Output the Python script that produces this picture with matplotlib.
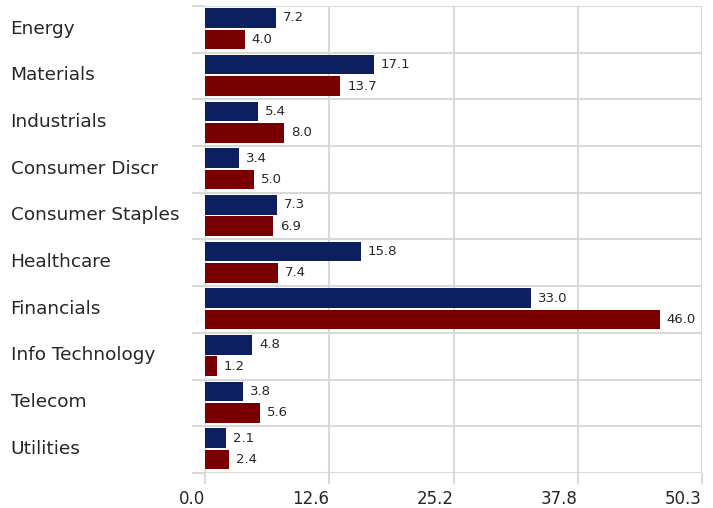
import numpy as np
import matplotlib.pyplot as plt

categories = ['Energy', 'Materials', 'Industrials', 'Consumer Discr',
              'Consumer Staples', 'Healthcare', 'Financials',
              'Info Technology', 'Telecom', 'Utilities']
series_a = [7.2, 17.1, 5.4, 3.4, 7.3, 15.8, 33.0, 4.8, 3.8, 2.1]
series_b = [4.0, 13.7, 8.0, 5.0, 6.9, 7.4, 46.0, 1.2, 5.6, 2.4]
x_max = 50.3
x_ticks = [0.0, 12.575, 25.15, 37.725, 50.3]
x_tick_labels = ['0.0', '12.6', '25.2', '37.8', '50.3']

navy = '#0c1f5e'
red = '#780000'
grid_col = '#d9d9d9'
text_col = '#262626'

plt.rcParams['font.family'] = ['DejaVu Sans']

fig = plt.figure(figsize=(7.13, 5.08), dpi=100)
ax = fig.add_axes([205 / 713, 1 - 473 / 508, 497 / 713, 467 / 508])

y = np.arange(len(categories))
h = 0.42
off_a, off_b = -0.245, 0.215
ax.barh(y + off_a, series_a, height=h, color=navy, zorder=3)
ax.barh(y + off_b, series_b, height=h, color=red, zorder=3)

for yi, va, vb in zip(y, series_a, series_b):
    ax.annotate(f'{va:.1f}', (va, yi + off_a), xytext=(5, 0), textcoords='offset points',
                va='center', ha='left', fontsize=9.5, color=text_col)
    ax.annotate(f'{vb:.1f}', (vb, yi + off_b), xytext=(5, 0), textcoords='offset points',
                va='center', ha='left', fontsize=9.5, color=text_col)

ax.set_xlim(0, x_max)
ax.set_ylim(len(categories) - 0.5, -0.5)

# category boundaries carry the grid, centres carry the labels
ax.set_yticks(np.arange(len(categories) + 1) - 0.5)
ax.set_yticklabels([])
ax.set_yticks(y - 0.06, minor=True)
ax.set_yticklabels(categories, minor=True, ha='left')
ax.tick_params(axis='y', which='major', length=9.5, width=1.5, color=grid_col)
ax.tick_params(axis='y', which='minor', length=0, pad=140, labelsize=13.3, labelcolor=text_col)

ax.set_xticks(x_ticks)
ax.set_xticklabels(x_tick_labels, ha='right')
ax.tick_params(axis='x', length=8, width=1.5, color=grid_col, pad=4,
               labelsize=12, labelcolor=text_col)

ax.grid(True, which='major', color=grid_col, linewidth=1.5, zorder=0)
ax.set_axisbelow(True)
for s in ax.spines.values():
    s.set_visible(False)

fig.savefig('out.png', dpi=100)
